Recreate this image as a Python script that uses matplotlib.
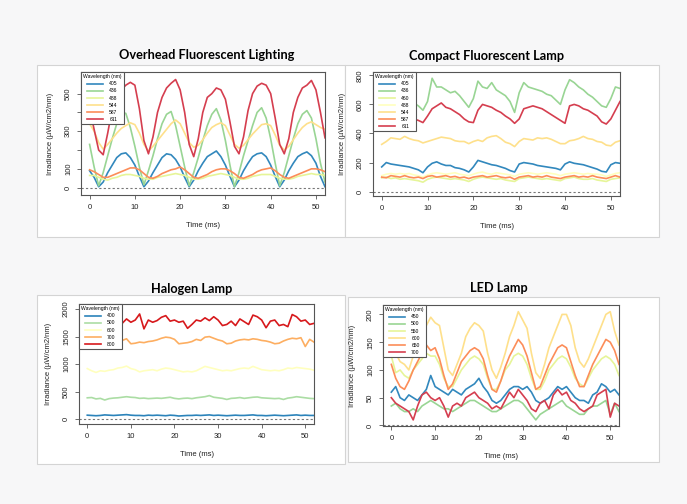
import numpy as np
import matplotlib
matplotlib.use('Agg')
import matplotlib.pyplot as plt
from matplotlib.patches import Rectangle

# tiempo en ms (una muestra por ms)
t = np.arange(0, 53)

# ---- Overhead Fluorescent Lighting
of_wl = ['405', '436', '488', '544', '587', '611']
of_405 = [90, 55, 5, 30, 80, 120, 160, 180, 185, 160, 120, 60, 5, 35, 80, 120, 160, 180, 175, 150, 110, 55, 5, 40, 90, 130,
          165, 180, 195, 165, 120, 60, 5, 40, 90, 130, 165, 180, 185, 165, 120, 60, 5, 40, 90, 130, 165, 180, 190, 170, 130, 60, 5]
of_436 = [230, 110, 10, 80, 170, 260, 340, 400, 395, 320, 220, 110, 15, 90, 170, 260, 340, 390, 405, 330, 220, 110, 10, 80, 160, 250,
          330, 390, 420, 360, 250, 120, 5, 80, 170, 250, 330, 400, 425, 370, 260, 130, 10, 80, 170, 260, 340, 390, 410, 370, 260, 130, 30]
of_488 = [65, 65, 55, 45, 40, 50, 55, 65, 70, 70, 65, 60, 50, 45, 45, 55, 60, 65, 70, 75, 70, 65, 55, 45, 45, 50,
          60, 65, 70, 75, 70, 65, 55, 45, 45, 50, 60, 65, 70, 70, 70, 60, 50, 45, 45, 50, 60, 65, 70, 75, 70, 70, 65]
of_544 = [340, 300, 240, 205, 230, 260, 290, 315, 330, 345, 335, 290, 230, 195, 220, 250, 280, 310, 340, 360, 340, 290, 240, 215, 225, 255,
          290, 320, 335, 345, 330, 280, 230, 210, 225, 255, 285, 310, 335, 340, 330, 280, 225, 200, 220, 255, 290, 320, 340, 350, 335, 320, 310]
of_587 = [95, 85, 70, 55, 55, 65, 75, 85, 95, 105, 105, 95, 75, 55, 50, 60, 75, 85, 95, 100, 110, 95, 75, 55, 50, 60,
          70, 85, 95, 100, 100, 90, 75, 55, 50, 60, 70, 85, 95, 100, 105, 90, 70, 55, 50, 60, 70, 80, 90, 100, 100, 95, 85]
of_611 = [420, 310, 200, 175, 290, 420, 490, 520, 545, 560, 545, 420, 250, 180, 270, 400, 480, 530, 555, 575, 520, 400, 230, 165, 260, 400,
          480, 500, 530, 520, 470, 350, 220, 180, 270, 410, 500, 540, 555, 545, 500, 370, 230, 180, 260, 400, 480, 530, 545, 570, 520, 400, 265]

# ---- Compact Fluorescent Lamp
cf_wl = ['405', '436', '460', '488', '544', '587', '611']
cf_405 = [170, 200, 190, 185, 180, 175, 170, 160, 150, 130, 170, 195, 205, 190, 180, 180, 165, 160, 150, 135, 170, 215, 205, 195, 185, 180,
          170, 160, 145, 135, 190, 200, 195, 190, 180, 175, 170, 165, 160, 150, 190, 205, 195, 190, 185, 175, 165, 155, 140, 135, 185, 200, 195]
cf_436 = [700, 720, 700, 680, 660, 650, 630, 610, 590, 560, 620, 780, 720, 720, 700, 680, 690, 660, 620, 580, 640, 760, 720, 710, 750, 700,
          680, 660, 620, 545, 680, 750, 720, 710, 700, 690, 670, 660, 630, 600, 700, 770, 750, 720, 700, 670, 650, 620, 590, 580, 640, 720, 710]
cf_460 = [95, 100, 90, 95, 85, 90, 85, 80, 75, 65, 85, 95, 100, 95, 90, 85, 90, 85, 80, 70, 85, 95, 100, 95, 90, 85,
          90, 80, 75, 70, 90, 95, 100, 95, 90, 85, 90, 85, 80, 75, 90, 95, 100, 90, 85, 85, 90, 80, 75, 70, 85, 90, 95]
cf_488 = [110, 120, 125, 120, 125, 120, 125, 115, 110, 100, 115, 125, 130, 125, 120, 125, 130, 120, 115, 110, 120, 130, 135, 125, 120, 130,
          125, 120, 115, 105, 120, 125, 130, 125, 120, 125, 130, 125, 120, 110, 120, 125, 130, 125, 120, 125, 120, 120, 115, 105, 115, 125, 130]
cf_544 = [325, 345, 370, 365, 360, 380, 365, 355, 350, 335, 345, 355, 365, 375, 370, 365, 350, 345, 345, 330, 345, 355, 345, 370, 380, 385,
          365, 340, 330, 310, 345, 365, 360, 355, 370, 365, 370, 360, 345, 330, 330, 350, 355, 365, 380, 365, 360, 345, 340, 320, 315, 340, 350]
cf_587 = [100, 95, 110, 105, 100, 110, 100, 95, 100, 90, 105, 110, 100, 105, 110, 100, 105, 95, 100, 90, 100, 105, 110, 100, 105, 110,
          100, 95, 100, 85, 100, 105, 110, 100, 105, 100, 110, 100, 95, 90, 100, 105, 110, 100, 105, 100, 110, 100, 95, 90, 100, 110, 100]
cf_611 = [550, 560, 550, 540, 530, 520, 510, 500, 490, 475, 520, 570, 590, 610, 580, 570, 550, 530, 500, 480, 475, 560, 600, 590, 580, 560,
          545, 520, 500, 470, 500, 570, 580, 590, 580, 570, 550, 530, 510, 490, 470, 590, 600, 590, 570, 560, 540, 520, 480, 465, 500, 560, 620]

# ---- Halogen Lamp
ha_wl = ['400', '500', '600', '700', '800']
ha_400 = [75, 70, 65, 70, 80, 75, 70, 75, 80, 85, 75, 70, 70, 65, 75, 70, 75, 70, 65, 75, 70, 60, 65, 70, 70, 75,
          70, 75, 80, 70, 75, 70, 65, 70, 75, 70, 70, 75, 80, 70, 70, 65, 70, 75, 70, 65, 70, 75, 80, 70, 75, 70, 70]
ha_500 = [390, 395, 370, 380, 350, 375, 385, 390, 400, 410, 400, 395, 380, 385, 375, 380, 385, 380, 390, 400, 380, 370, 380, 385, 375, 390,
          400, 410, 430, 400, 390, 380, 360, 380, 385, 395, 380, 390, 400, 405, 390, 385, 380, 375, 380, 360, 385, 395, 410, 400, 390, 380, 375]
ha_600 = [920, 880, 850, 880, 870, 890, 900, 930, 940, 965, 920, 900, 860, 880, 890, 900, 880, 910, 930, 920, 900, 880, 860, 870, 860, 880,
          920, 960, 940, 920, 900, 880, 890, 880, 900, 920, 930, 920, 960, 930, 900, 890, 880, 890, 880, 900, 930, 920, 940, 930, 920, 910, 890]
ha_700 = [1420, 1400, 1450, 1420, 1440, 1400, 1420, 1450, 1430, 1460, 1370, 1380, 1400, 1390, 1410, 1420, 1440, 1470, 1490, 1480, 1450, 1370,
          1380, 1390, 1410, 1450, 1430, 1490, 1500, 1470, 1440, 1420, 1370, 1380, 1420, 1440, 1450, 1440, 1460, 1450, 1430, 1420, 1400, 1370,
          1380, 1420, 1450, 1470, 1460, 1480, 1320, 1450, 1400]
ha_800 = [1800, 1780, 1820, 1760, 1800, 1750, 1790, 1800, 1740, 1820, 1760, 1800, 1910, 1640, 1800, 1760, 1790, 1850, 1880, 1780, 1800, 1760,
          1780, 1650, 1720, 1800, 1780, 1840, 1790, 1860, 1800, 1700, 1720, 1780, 1700, 1820, 1770, 1720, 1890, 1860, 1800, 1660, 1780, 1800,
          1700, 1720, 1680, 1900, 1860, 1780, 1800, 1720, 1740]

# ---- LED Lamp
le_wl = ['450', '500', '550', '600', '650', '700']
le_450 = [60, 70, 50, 45, 55, 50, 45, 55, 65, 90, 70, 65, 60, 55, 65, 60, 55, 65, 70, 75, 85, 70, 60, 45, 40, 45,
          55, 65, 70, 70, 65, 70, 60, 45, 40, 45, 50, 60, 70, 65, 70, 60, 50, 45, 45, 40, 55, 60, 75, 70, 60, 65, 55]
le_500 = [35, 40, 30, 25, 25, 30, 25, 35, 40, 45, 40, 35, 30, 30, 25, 30, 35, 40, 45, 45, 40, 35, 30, 25, 25, 30,
          35, 40, 45, 45, 40, 30, 20, 10, 20, 25, 30, 35, 40, 45, 35, 30, 25, 20, 20, 30, 35, 35, 40, 45, 20, 40, 25]
le_550 = [125, 95, 100, 90, 85, 100, 110, 120, 130, 125, 125, 110, 85, 70, 70, 85, 100, 110, 120, 125, 120, 110, 85, 65, 65, 80,
          100, 110, 125, 130, 125, 110, 85, 65, 65, 80, 100, 110, 120, 125, 120, 105, 85, 75, 70, 85, 100, 110, 120, 125, 120, 110, 90]
le_600 = [150, 130, 115, 110, 100, 125, 150, 170, 180, 195, 185, 180, 140, 100, 90, 110, 130, 160, 175, 185, 180, 170, 130, 100, 85, 105,
          130, 160, 180, 205, 190, 175, 130, 95, 85, 110, 140, 160, 180, 200, 200, 180, 140, 115, 105, 120, 140, 160, 180, 200, 205, 170, 145]
le_650 = [110, 85, 70, 65, 80, 100, 115, 130, 145, 135, 140, 120, 90, 65, 75, 95, 115, 125, 135, 140, 135, 120, 90, 65, 60, 80,
          105, 125, 140, 155, 145, 125, 95, 65, 70, 90, 110, 125, 140, 145, 140, 115, 90, 70, 70, 90, 110, 125, 140, 155, 150, 135, 110]
le_700 = [50, 40, 35, 30, 25, 10, 35, 55, 60, 50, 45, 50, 35, 15, 35, 40, 35, 50, 55, 60, 50, 45, 40, 30, 35, 30,
          45, 60, 50, 65, 55, 45, 30, 25, 40, 45, 30, 55, 65, 55, 60, 45, 40, 30, 25, 30, 35, 55, 60, 65, 15, 40, 35]

spec5 = ['#2b83ba', '#abdda4', '#ffffbf', '#fdae61', '#d7191c']
spec6 = ['#3288bd', '#99d594', '#e6f598', '#fee08b', '#fc8d59', '#d53e4f']
spec7 = ['#3288bd', '#99d594', '#e6f598', '#ffffbf', '#fee08b', '#fc8d59', '#d53e4f']

W, H = 687, 504
fig = plt.figure(figsize=(W / 100, H / 100), dpi=100)
fig.patch.set_facecolor('#f7f7f8')
plt.rcParams['font.family'] = ['Liberation Sans', 'DejaVu Sans']


def px_rect(x0, y0, x1, y1):
    r = Rectangle((x0 / W, 1 - y1 / H), (x1 - x0) / W, (y1 - y0) / H, transform=fig.transFigure,
                  facecolor='white', edgecolor='#d4d4d4', lw=0.8, zorder=-5)
    fig.patches.append(r)


def px_axes(x0, y0, x1, y1):
    ax = fig.add_axes([x0 / W, 1 - y1 / H, (x1 - x0) / W, (y1 - y0) / H])
    ax.set_zorder(2)
    return ax


# cajas blancas de fondo
px_rect(37, 65, 345, 237)
px_rect(345, 65, 659, 237)
px_rect(37, 295, 345, 464)
px_rect(348, 297, 659, 462)

titles = [('Overhead Fluorescent Lighting', 207, 55), ('Compact Fluorescent Lamp', 487, 56),
          ('Halogen Lamp', 192, 289), ('LED Lamp', 499, 288)]
for txt, x, y in titles:
    fig.text(x / W, 1 - y / H, txt, ha='center', va='center', fontsize=9.2, fontweight='bold', family='Lato')


def panel(box, series, labels, colors, ylim, yticks, ylabels):
    ax = px_axes(*box)
    ax.set_facecolor('white')
    ax.axhline(0, color='#777777', lw=0.8, ls=(0, (2, 2)), zorder=1)
    for s, lab, c in zip(series, labels, colors):
        ax.plot(t, s, color=c, lw=1.2, label=lab)
    ax.set_xlim(-1.9, 52)
    ax.set_ylim(*ylim)
    ax.set_xticks([0, 10, 20, 30, 40, 50])
    ax.set_yticks(yticks)
    ax.set_yticklabels(ylabels, rotation=90, va='center')
    for sp in ax.spines.values():
        sp.set_color('#555555')
        sp.set_linewidth(0.8)
    ax.tick_params(labelsize=5.5, length=3, width=0.6, color='#555555', pad=3.5, labelcolor='#222222')
    ax.set_xlabel('Time (ms)', fontsize=5.5, labelpad=8, color='#222222')
    ax.set_ylabel('Irradiance (µW/cm2/nm)', fontsize=5.5, labelpad=8, color='#222222')
    leg = ax.legend(loc='upper left', borderaxespad=0, fontsize=3.6, title='Wavelength (nm)', title_fontsize=3.6,
                    fancybox=False, framealpha=1, edgecolor='#555555', handlelength=3.2, labelspacing=0.42,
                    borderpad=0.45, handletextpad=1.2)
    leg.get_frame().set_linewidth(0.8)
    for l in leg.get_lines():
        l.set_linewidth(1.2)
    return ax


panel((81, 72, 325, 195), [of_405, of_436, of_488, of_544, of_587, of_611], of_wl, spec6,
      (-39, 615), [0, 100, 200, 300, 400, 500], ['0', '100', '', '300', '', '500'])
panel((373, 72, 620, 196), [cf_405, cf_436, cf_460, cf_488, cf_544, cf_587, cf_611], cf_wl, spec7,
      (-30, 823), [0, 200, 400, 600, 800], ['0', '200', '400', '600', '800'])
panel((79, 304, 314, 424), [ha_400, ha_500, ha_600, ha_700, ha_800], ha_wl, spec5,
      (-85, 2091), [0, 500, 1000, 1500, 2000], ['0', '500', '1000', '1500', '2000'])
panel((383, 305, 619, 426), [le_450, le_500, le_550, le_600, le_650, le_700], le_wl, spec6,
      (-1, 217), [0, 50, 100, 150, 200], ['0', '50', '100', '150', '200'])

fig.savefig('out.png', dpi=100, facecolor=fig.get_facecolor())
